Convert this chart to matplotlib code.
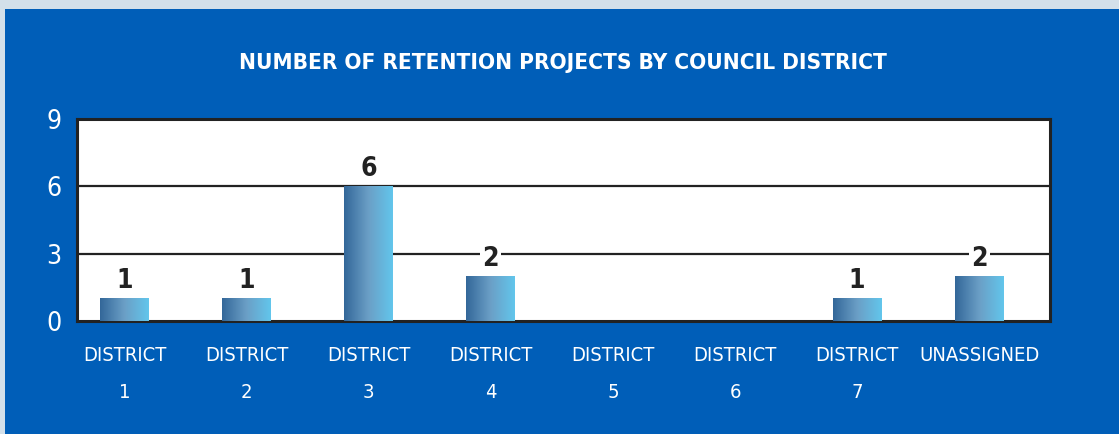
import matplotlib
matplotlib.use('Agg')
import matplotlib.pyplot as plt
import numpy as np
from matplotlib.colors import LinearSegmentedColormap

# data
categories = ['DISTRICT\n1', 'DISTRICT\n2', 'DISTRICT\n3', 'DISTRICT\n4',
              'DISTRICT\n5', 'DISTRICT\n6', 'DISTRICT\n7', 'UNASSIGNED\n ']
projects = [1, 1, 6, 2, 0, 0, 1, 2]
y_ticks = [0, 3, 6, 9]

PANEL = '#005eb8'
INK = '#222222'
FONT = 'DejaVu Sans'
STRETCH = 'condensed'

bar_cmap = LinearSegmentedColormap.from_list('bar', ['#336799', '#6b9fc6', '#62c6ec'])

fig = plt.figure(figsize=(11.19, 4.34), dpi=100)
fig.patch.set_facecolor('#d3e0ea')

# blue panel behind the chart
bg = fig.add_axes([5 / 1119, 0, 1 - 5 / 1119, 1 - 9 / 434], zorder=-5)
bg.set_facecolor(PANEL)
bg.set_xticks([])
bg.set_yticks([])
for s in bg.spines.values():
    s.set_visible(False)

ax = fig.add_axes([77 / 1119, (434 - 321) / 434, (1050 - 77) / 1119, (321 - 119) / 434])
ax.set_facecolor('white')
x = np.arange(len(categories))

width = 0.4
grad = np.linspace(0, 1, 256).reshape(1, -1)
for xi, v in zip(x, projects):
    if v <= 0:
        continue
    ax.imshow(grad, cmap=bar_cmap, aspect='auto', zorder=3,
              extent=(xi - width / 2, xi + width / 2, 0, v))
    ax.text(xi, v + 0.2, str(v), ha='center', va='bottom', fontsize=19,
            fontweight='bold', color=INK, family=FONT, fontstretch=STRETCH, zorder=4,
            bbox=dict(facecolor='white', edgecolor='none', pad=1.5))
ax.set_xlim(-0.39, 7.58)
ax.set_ylim(0, 9)

for g in [3, 6]:
    ax.axhline(g, color=INK, lw=1.6, zorder=2)

for s in ax.spines.values():
    s.set_color(INK)
    s.set_linewidth(2.2)

ax.set_yticks(y_ticks)
ax.set_yticklabels([str(t) for t in y_ticks], color='white', fontsize=19,
                   family=FONT, fontstretch=STRETCH)
ax.set_xticks(x)
ax.set_xticklabels(categories, color='white', fontsize=14.5, family=FONT,
                   fontstretch=STRETCH, linespacing=2.2, va='top')
ax.tick_params(length=0)
ax.tick_params(axis='y', pad=11)
ax.tick_params(axis='x', pad=18)

fig.text(563 / 1119, 1 - 63 / 434, 'NUMBER OF RETENTION PROJECTS BY COUNCIL DISTRICT',
         ha='center', va='center', color='white', fontsize=16.2, fontweight='bold',
         family=FONT, fontstretch=STRETCH)

fig.savefig('out.png', dpi=100, facecolor=fig.get_facecolor())
